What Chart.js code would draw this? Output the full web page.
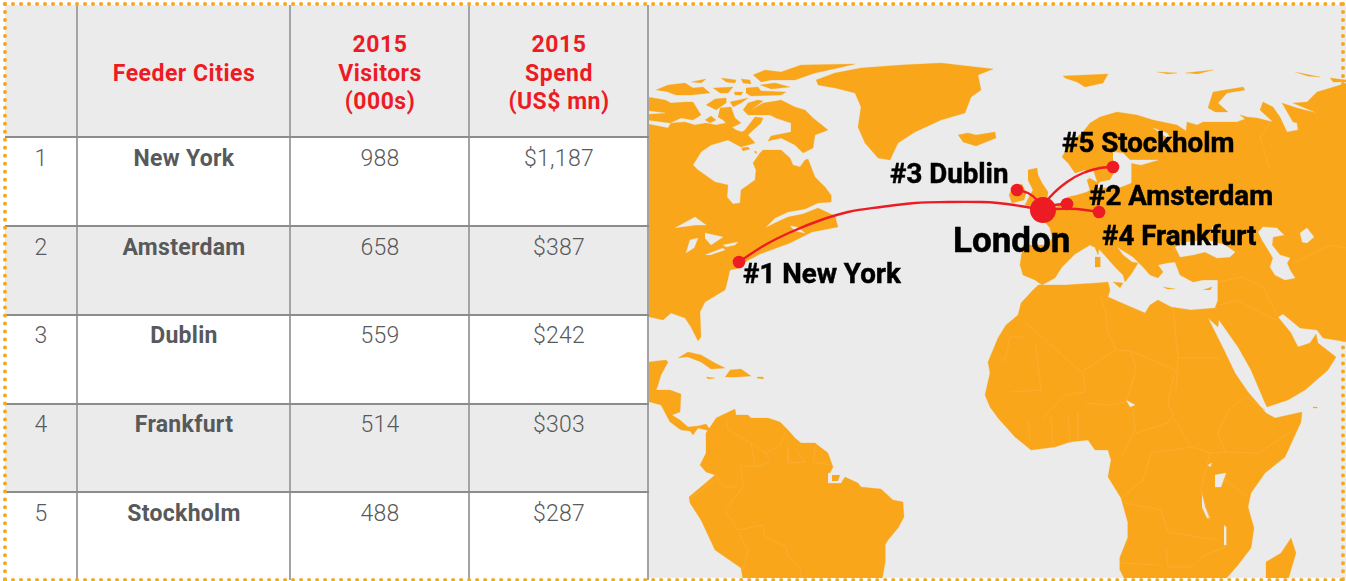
<!DOCTYPE html>
<html><head><meta charset="utf-8">
<script src="https://cdn.jsdelivr.net/npm/chart.js@4"></script>
<style>
html,body{margin:0;padding:0;width:1346px;height:581px;overflow:hidden;background:#fff}
#page{position:absolute;left:0;top:0;width:1346px;height:581px;overflow:hidden;font-family:Roboto,sans-serif}
#map{position:absolute;left:649px;top:5px;background:#ebebeb}
.band{position:absolute;left:5px;width:644px;background:#ebebeb}
.v{position:absolute;background:#a3a3a3}
.h{position:absolute;background:#8c8c8c}
.t{position:absolute;transform:translateX(-50%);white-space:nowrap;text-align:center}
.hd{color:#ed1c24;font-weight:700;font-size:23px;line-height:29px;letter-spacing:.5px}
.nm{color:#58595b;font-weight:700;font-size:23px;line-height:28px;letter-spacing:.3px}
.nu{color:#58595b;font-weight:300;font-size:23px;line-height:28px;letter-spacing:.3px}
#frame{position:absolute;left:3px;top:2px;width:1334px;height:572px;border:4px dotted #f9a61a;pointer-events:none}
</style></head><body>
<div id="page">
<div id="table"></div>
<canvas id="map" width="697" height="573"></canvas>
<div id="frame"></div>
</div>
<script>
// ---------- table data ----------
const headers = [[""], ["Feeder Cities"], ["2015","Visitors","(000s)"], ["2015","Spend","(US$ mn)"]];
const ranks = ["1","2","3","4","5"];
const cities = ["New York","Amsterdam","Dublin","Frankfurt","Stockholm"];
const visitors = ["988","658","559","514","488"];
const spend = ["$1,187","$387","$242","$303","$287"];

// ---------- map data, in map units ----------
const northAmerica = [[648,124],[668,128],[671,123],[685,122],[695,125],[706,123],[716,125],[726,123],[736,130],[742,132],[745,130],[755,117],[763,118],[761,123],[751,132],[748,135],[755,143],[741,147],[728,140],[711,145],[701,152],[693,165],[698,170],[715,182],[728,185],[727,197],[733,204],[740,203],[741,190],[755,180],[756,170],[753,163],[760,153],[763,150],[781,150],[790,158],[793,165],[800,167],[805,160],[808,159],[815,177],[825,187],[831,195],[831,202],[818,203],[805,209],[788,212],[775,218],[765,228],[775,223],[788,217],[803,214],[818,208],[835,216],[838,227],[812,232],[790,243],[760,254],[745,262],[740,268],[730,270],[726,287],[725,290],[705,302],[700,312],[701,337],[698,341],[691,327],[685,318],[671,313],[663,320],[650,317],[648,317]];
const arcticA = [[648,97],[665,100],[671,103],[685,102],[693,102],[701,115],[693,120],[681,118],[670,123],[648,120]];
const arcticB = [[706,105],[715,99],[726,98],[726,103],[716,110]];
const arcticC = [[730,102],[748,98],[741,103],[733,107]];
const arcticG = [[720,108],[731,107],[735,118],[741,123],[731,128],[723,120],[718,117]];
const arcticH = [[705,120],[711,116],[716,120],[710,123]];
const baffin = [[743,110],[748,103],[758,100],[763,101],[755,107],[751,110],[763,103],[776,101],[781,100],[795,107],[805,110],[813,118],[828,130],[815,135],[813,148],[803,153],[795,145],[781,138],[768,141],[771,136],[791,132],[791,123],[776,118],[770,115],[761,115],[748,115]];
const queenA = [[656,90],[668,85],[685,83],[693,88],[703,87],[710,93],[691,95],[676,95],[668,92]];
const queenB = [[691,82],[706,79],[701,83]];
const queenC = [[721,78],[736,80],[735,83],[726,82]];
const queenD = [[741,79],[750,80],[751,84],[743,83]];
const queenE = [[713,88],[733,87],[728,93],[720,93]];
const queenF = [[734,92],[743,92],[741,95],[735,95]];
const queenG = [[746,88],[758,87],[761,91],[786,92],[781,95],[751,96],[746,93]];
const queenH = [[760,85],[775,83],[790,87],[771,89]];
const ellesmere = [[753,75],[765,70],[781,72],[801,65],[855,64],[838,68],[815,73],[795,80],[788,80],[771,80],[761,82]];
const southampton = [[741,148],[748,147],[750,149],[743,151]];
const mansel = [[754,152],[756,151],[757,154]];
const greenland = [[816,80],[835,73],[861,68],[901,65],[941,63],[993,69],[978,75],[981,90],[971,97],[965,113],[941,120],[915,132],[898,143],[890,160],[878,158],[865,143],[858,127],[861,107],[855,93],[835,88],[818,85]];
const iceland = [[958,135],[968,133],[976,135],[995,132],[996,138],[976,146],[963,142]];
const cuba = [[678,358],[688,352],[701,355],[715,363],[725,368],[711,369],[701,362],[688,357]];
const hispaniola = [[730,370],[741,369],[751,376],[738,377],[725,377]];
const jamaica = [[706,377],[715,378],[708,379]];
const puertoRico = [[757,377],[763,377],[763,379],[757,378]];
const centralAmerica = [[648,362],[666,360],[668,362],[661,375],[658,385],[656,390],[670,390],[681,394],[680,412],[672,415],[680,420],[688,427],[698,426],[706,424],[712,432],[706,430],[698,428],[693,435],[690,431],[681,430],[670,422],[661,405],[650,402],[648,402]];
const southAmerica = [[716,418],[735,409],[736,415],[748,415],[751,418],[768,418],[780,422],[788,430],[795,438],[801,443],[815,443],[828,453],[833,467],[830,473],[828,483],[841,483],[845,477],[858,483],[861,487],[881,489],[893,500],[903,502],[904,517],[898,528],[888,540],[885,545],[885,563],[882,580],[743,580],[741,568],[715,550],[701,520],[690,503],[689,497],[715,475],[706,472],[700,465],[706,453],[706,433]];
const africa = [[1033,290],[1021,303],[1018,315],[1006,325],[998,338],[988,362],[990,373],[985,395],[990,407],[998,418],[1015,437],[1031,450],[1055,447],[1070,442],[1088,440],[1095,450],[1108,450],[1111,460],[1108,477],[1121,498],[1128,523],[1128,537],[1120,557],[1120,570],[1125,580],[1225,580],[1238,565],[1251,548],[1254,528],[1248,507],[1251,493],[1265,473],[1285,457],[1301,422],[1302,412],[1275,418],[1266,413],[1248,392],[1235,373],[1225,352],[1208,318],[1218,327],[1219,318],[1215,308],[1191,310],[1171,307],[1158,300],[1150,305],[1145,313],[1131,307],[1108,297],[1110,290],[1108,282],[1097,283],[1065,285],[1038,285]];
const madagascar = [[1266,580],[1266,562],[1281,553],[1291,538],[1296,553],[1288,580]];
const eurasia = [[1219,320],[1238,347],[1251,370],[1265,403],[1267,407],[1288,400],[1305,390],[1328,370],[1336,357],[1318,343],[1316,334],[1310,343],[1298,347],[1291,333],[1278,317],[1283,314],[1300,328],[1317,330],[1323,338],[1347,342],[1347,83],[1317,92],[1307,102],[1293,103],[1317,113],[1297,108],[1282,103],[1293,122],[1307,125],[1297,123],[1298,130],[1287,132],[1280,117],[1273,107],[1263,102],[1260,110],[1273,122],[1257,118],[1247,117],[1240,115],[1245,119],[1237,122],[1217,122],[1203,122],[1197,125],[1187,122],[1186,131],[1177,125],[1153,120],[1137,115],[1117,112],[1100,117],[1090,123],[1083,132],[1070,143],[1062,157],[1068,163],[1075,173],[1085,170],[1090,178],[1087,180],[1090,190],[1087,192],[1077,195],[1068,197],[1058,205],[1050,215],[1040,218],[1043,220],[1050,228],[1052,238],[1048,245],[1023,245],[1020,265],[1023,275],[1035,280],[1042,285],[1055,278],[1062,267],[1075,254],[1090,245],[1100,250],[1115,267],[1123,275],[1125,282],[1132,273],[1138,263],[1132,262],[1123,255],[1117,247],[1133,257],[1143,267],[1150,275],[1158,278],[1163,272],[1158,265],[1167,263],[1175,262],[1180,275],[1193,282],[1203,280],[1218,280],[1218,300],[1215,308]];
const britain = [[1028,170],[1037,168],[1038,175],[1042,183],[1048,192],[1047,200],[1035,207],[1025,205],[1030,195],[1033,190],[1028,180]];
const ireland = [[1012,188],[1022,184],[1026,193],[1024,200],[1012,203],[1009,195]];
const sicily = [[1113,282],[1123,283],[1120,288]];
const sardinia = [[1095,257],[1100,257],[1100,267],[1095,267]];
const corsica = [[1095,248],[1099,248],[1098,255]];
const cyprus = [[1203,290],[1212,287],[1210,290]];
const crete = [[1163,287],[1175,289],[1167,289]];
const novayaZemlya = [[1208,108],[1213,92],[1243,87],[1245,90],[1227,93],[1218,103],[1228,112],[1215,112]];
const svalbard = [[1063,76],[1108,74],[1103,83],[1085,87],[1077,82],[1065,78]];
const franzJosefA = [[1157,72],[1177,73],[1167,74]];
const franzJosefB = [[1185,73],[1213,70],[1197,74]];
const severnayaA = [[1295,72],[1320,77],[1307,76]];
const severnayaB = [[1330,78],[1347,80],[1347,82],[1333,82]];
const socotra = [[1313,407],[1317,407],[1317,408],[1313,408]];
const amazonIsland = [[832,475],[840,475],[838,481],[832,481]];
const landShapes = [northAmerica,arcticA,arcticB,arcticC,arcticG,arcticH,baffin,queenA,queenB,queenC,queenD,queenE,queenF,queenG,queenH,ellesmere,southampton,mansel,greenland,iceland,cuba,hispaniola,jamaica,puertoRico,centralAmerica,southAmerica,africa,madagascar,eurasia,britain,ireland,sicily,sardinia,corsica,cyprus,crete,novayaZemlya,svalbard,franzJosefA,franzJosefB,severnayaA,severnayaB,socotra];

const superior = [[675,228],[695,217],[706,225],[696,225],[681,227]];
const michigan = [[686,253],[690,240],[698,238],[694,248]];
const huron = [[705,233],[723,237],[711,245],[705,238]];
const erie = [[705,255],[723,248],[725,250],[710,255]];
const ontario = [[723,245],[738,242],[735,245],[726,247]];
const amazonMouth = [[828,473],[842,474],[841,483],[828,483]];
const baffinLake = [[776,125],[785,123],[783,127],[778,128]];
const arcticSliver = [[648,111],[665,113],[648,114]];
const gulfSliver = [[790,226],[797,227],[805,233],[795,231]];
const baltic = [[1113,152],[1123,153],[1130,160],[1158,160],[1141,165],[1131,163],[1131,183],[1121,187],[1095,188],[1100,182],[1110,180],[1117,168],[1113,160]];
const kattegat = [[1085,172],[1093,170],[1097,182],[1090,178]];
const whiteSea = [[1153,128],[1167,133],[1172,140],[1163,135]];
const blackSea = [[1175,247],[1187,242],[1207,240],[1225,245],[1235,252],[1230,257],[1217,258],[1205,252],[1193,255],[1180,257]];
const azov = [[1212,227],[1218,225],[1213,232]];
const caspian = [[1258,232],[1263,227],[1277,228],[1284,235],[1273,237],[1272,245],[1280,255],[1290,258],[1287,263],[1290,270],[1295,278],[1285,280],[1275,275],[1270,267],[1273,258],[1267,248],[1262,240]];
const aral = [[1300,233],[1307,228],[1314,237],[1307,243],[1302,242]];
const victoria = [[1215,475],[1226,473],[1221,487],[1215,487]];
const tanganyika = [[1202,493],[1205,507],[1210,518],[1207,518],[1202,507]];
const malawi = [[1224,525],[1226,527],[1226,545],[1224,545]];
const lakeChad = [[1126,400],[1135,405],[1130,407]];
const lakeAlbert = [[1208,465],[1212,463],[1210,467]];
const waterShapes = [superior,michigan,huron,erie,ontario,amazonMouth,baffinLake,arcticSliver,gulfSliver,baltic,kattegat,whiteSea,blackSea,azov,caspian,aral,victoria,tanganyika,malawi,lakeChad,lakeAlbert];
const islandOverMouth = [amazonIsland];

const borderLines = [
 [[1025,322],[1081,372],[1116,350],[1108,333],[1105,310],[1101,297]],
 [[1116,350],[1131,351],[1175,370]],
 [[1173,308],[1178,358],[1176,390]],[[1178,358],[1220,358]],
 [[1083,372],[1085,392],[1065,395],[1041,420]],
 [[1035,342],[1041,390]],[[998,360],[1005,360],[1010,337],[1025,337]],[[1011,392],[1041,390]],
 [[1085,403],[1108,405],[1126,402],[1136,370],[1131,351]],
 [[1133,408],[1135,430],[1121,457]],
 [[1136,433],[1168,423],[1173,415],[1168,403],[1175,370]],
 [[1173,417],[1191,447],[1151,453],[1143,480],[1121,498]],
 [[1191,447],[1211,453],[1225,452],[1258,453],[1291,432]],
 [[1225,452],[1218,433],[1228,410],[1246,397],[1265,410]],
 [[1210,453],[1201,490],[1210,520]],[[1225,480],[1248,497]],
 [[1125,503],[1161,510],[1168,532],[1198,537],[1218,540]],
 [[1166,547],[1168,567],[1191,567],[1205,555],[1225,547]],[[1120,563],[1158,565]],
 [[1028,420],[1030,440]],[[1051,417],[1053,447]],[[1068,415],[1070,443]],[[1078,413],[1078,440]],
 [[726,418],[728,430],[751,443],[755,467],[741,465],[743,487],[725,510],[738,530],[763,525],[765,537],[786,547],[788,557],[800,567],[801,578]],
 [[751,443],[766,453],[781,445],[785,432]],[[755,467],[770,462],[766,453]],
 [[788,447],[788,463],[805,462],[796,450]],[[815,447],[813,462],[831,465]],
 [[715,475],[725,487],[738,487]],[[691,498],[715,480]],[[738,532],[748,550],[743,570]],
 [[1218,282],[1243,277],[1263,287],[1277,315]],[[1220,305],[1237,300],[1277,320]],
 [[1270,123],[1260,137],[1270,170]],[[1293,263],[1330,245],[1346,248]]
];

// ---------- routes and labels ----------
const londonPoint = [1043,210];
const routeNewYork = [[739,262],[765,245],[791,232],[821,220],[848,212],[881,207],[915,203],[948,202],[981,202],[998,203],[1020,206],[1043,210]];
const routeAmsterdam = [[1043,209],[1055,205],[1067,204]];
const routeDublin = [[1017,190],[1028,193],[1037,200],[1043,209]];
const routeFrankfurt = [[1043,209],[1055,209],[1077,209],[1099,212]];
const routeStockholm = [[1043,209],[1050,197],[1067,182],[1083,173],[1100,168],[1113,167]];
const routes = [routeNewYork,routeAmsterdam,routeDublin,routeFrankfurt,routeStockholm];
const cityPoints = [[739,262],[1067,204],[1017,190],[1099,212],[1113,167]];
const mapLabels = ["#1 New York","#2 Amsterdam","#3 Dublin","#4 Frankfurt","#5 Stockholm","London"];
const labelAnchors = [[743,276],[1089,198],[890,176],[1102,238],[1062,145],[953,243]];

// ---------- build table ----------
const tbl = document.getElementById('table');
const colCentres = [41,184,380,559];
const rowTops = [137,226,315,404,492];
[1,3].forEach(i=>{const b=document.createElement('div');b.className='band';b.style.top=rowTops[i]+'px';b.style.height=(rowTops[i+1]-rowTops[i])+'px';tbl.appendChild(b);});
const hb=document.createElement('div');hb.className='band';hb.style.top='5px';hb.style.height='132px';tbl.appendChild(hb);
[77,290,469,648].forEach(x=>{const d=document.createElement('div');d.className='v';d.style.cssText=`left:${x-1}px;top:5px;width:2px;height:575px`;tbl.appendChild(d);});
rowTops.forEach(y=>{const d=document.createElement('div');d.className='h';d.style.cssText=`left:5px;top:${y-1}px;width:644px;height:2px`;tbl.appendChild(d);});
function put(txt,cx,cy,cls){const d=document.createElement('div');d.className='t '+cls;d.textContent=txt;d.style.left=cx+'px';d.style.top=(cy-14)+'px';tbl.appendChild(d);}
const headLineY=[[44,73,101],[73],[44,73,101],[44,73,101]];
headers.forEach((lines,c)=>{lines.forEach((l,i)=>{if(l)put(l,colCentres[c],headLineY[c][i],'hd');});});
const rowTextY=[159,248,336,425,514];
ranks.forEach((r,i)=>{
  put(r,colCentres[0],rowTextY[i],'nu');
  put(cities[i],colCentres[1],rowTextY[i],'nm');
  put(visitors[i],colCentres[2],rowTextY[i],'nu');
  put(spend[i],colCentres[3],rowTextY[i],'nu');
});

// ---------- chart ----------
const pts = a => a.map(p=>({x:p[0],y:p[1]}));
const ORANGE='#f9a61a', SEA='#ebebeb', RED='#ed1c24', EDGE='#fbb03a';
const ds=[];
landShapes.forEach(s=>ds.push({data:pts(s),fill:'shape',backgroundColor:ORANGE,borderColor:ORANGE,borderWidth:0.3,pointRadius:0,tension:0}));
waterShapes.forEach(s=>ds.push({data:pts(s),fill:'shape',backgroundColor:SEA,borderColor:SEA,borderWidth:0.3,pointRadius:0,tension:0}));
islandOverMouth.forEach(s=>ds.push({data:pts(s),fill:'shape',backgroundColor:ORANGE,borderWidth:0,pointRadius:0}));
borderLines.forEach(s=>ds.push({data:pts(s),borderColor:EDGE,borderWidth:0.7,pointRadius:0,fill:false,tension:0}));
routes.forEach(s=>ds.push({data:pts(s),borderColor:RED,borderWidth:2.4,pointRadius:0,fill:false,tension:0.4}));
ds.push({data:pts(cityPoints),showLine:false,pointRadius:6.3,pointBackgroundColor:RED,pointBorderWidth:0});
ds.push({data:pts([londonPoint]),showLine:false,pointRadius:13,pointBackgroundColor:RED,pointBorderWidth:0});
ds.forEach((d,i)=>{d.order=ds.length-i;});

const labelPlugin={id:'mapLabels',afterDatasetsDraw(chart){
  const {ctx,scales:{x,y}}=chart;
  ctx.save();ctx.fillStyle='#000';ctx.strokeStyle='#000';ctx.lineWidth=0.5;ctx.textBaseline='middle';ctx.textAlign='left';
  mapLabels.forEach((t,i)=>{
    ctx.font=(t==='London'?'700 35px':'700 27.7px')+' Roboto, sans-serif';
    const px=x.getPixelForValue(labelAnchors[i][0]),py=y.getPixelForValue(labelAnchors[i][1]);
    ctx.fillText(t,px,py);ctx.strokeText(t,px,py);
  });
  ctx.restore();
}};
new Chart(document.getElementById('map'),{
  type:'line',
  data:{datasets:ds},
  plugins:[labelPlugin],
  options:{responsive:false,animation:false,events:[],
    layout:{padding:0,autoPadding:false},
    plugins:{legend:{display:false},tooltip:{enabled:false},title:{display:false}},
    scales:{x:{type:'linear',min:649,max:1346,display:false},y:{type:'linear',min:5,max:578,reverse:true,display:false}}
  }
});
</script>
</body></html>
